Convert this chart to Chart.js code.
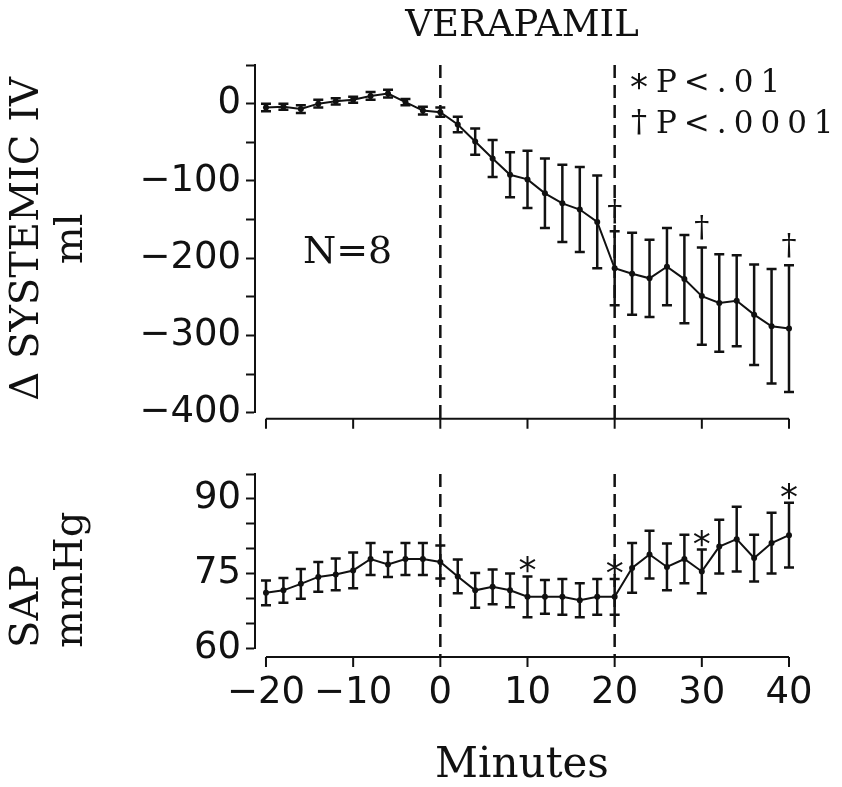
<!DOCTYPE html>
<html>
<head>
<meta charset="utf-8">
<script src="https://cdn.jsdelivr.net/npm/chart.js@4.4.0/dist/chart.umd.min.js"></script>
<style>
html, body { margin: 0; padding: 0; background: #fff; }
#wrap { position: relative; width: 842px; height: 787px; }
#topBox { position: absolute; left: 0; top: 0; width: 842px; height: 440px; }
#botBox { position: absolute; left: 0; top: 440px; width: 842px; height: 347px; }
</style>
</head>
<body>
<div id="wrap">
  <div id="topBox"><canvas id="chart-iv"></canvas></div>
  <div id="botBox"><canvas id="chart-sap"></canvas></div>
</div>
<script>
// time points (minutes), every 2 min
const minutes = [-20,-18,-16,-14,-12,-10,-8,-6,-4,-2,0,2,4,6,8,10,12,14,16,18,20,22,24,26,28,30,32,34,36,38,40];

// delta systemic IV (ml), mean and error
const ivMean = [-5,-4,-7,0,3,5,10,13,2,-9,-11,-27,-49,-71,-92,-98,-116,-129,-137,-153,-213,-220,-226,-211,-227,-249,-258,-255,-273,-288,-291];
const ivErr  = [5,4,5,5,4,4,5,5,4,5,6,10,17,24,29,37,45,50,55,60,48,53,50,50,57,63,63,59,65,74,82];

// SAP (mmHg), mean and error
const sapMean = [71.1,71.6,72.9,74.3,74.8,75.6,77.9,76.8,77.9,77.9,77.3,74.4,71.6,72.3,71.6,70.3,70.3,70.3,69.6,70.3,70.3,76.1,78.8,76.3,77.9,75.4,80.4,81.9,78.1,81.1,82.7];
const sapErr  = [2.5,2.5,3,3,3.2,3.6,3.2,2.5,3.2,3.2,3.3,3.4,3.5,3.5,3.4,4.1,3.4,3.6,3.4,3.6,3.6,5,4.8,4.7,4.9,4.4,5.4,6.5,4.7,6.1,6.5];

// significance marks
const daggerMinutes = [20, 30, 40];
const starMinutes = [10, 20, 30, 40];

// drug start / end
const markLines = [0, 20];

// ticks
const xTicks = [-20,-10,0,10,20,30,40];
const xMin = -21.26, xMax = 40;
const ivTicks = [-400,-350,-300,-250,-200,-150,-100,-50,0,50];
const ivLabels = [-400,-300,-200,-100,0];
const sapTicks = [60,65,70,75,80,85,90,95];
const sapLabels = [60,75,90];

const legendSymbols = ['*', '†'];
const legendTexts = ['P<.01', 'P<.0001'];
const sampleNote = 'N=8';

const INK = '#111';
Chart.defaults.font.family = 'DejaVu Sans';
Chart.defaults.color = INK;

const fmt = v => (v < 0 ? '\u2212' + Math.abs(v) : String(v));

// draw a glyph with its ink box centred horizontally on cx and bottom at by
function glyphAbove(ctx, txt, cx, by) {
  ctx.textAlign = 'left';
  ctx.textBaseline = 'alphabetic';
  const m = ctx.measureText(txt);
  const x0 = cx - (m.actualBoundingBoxRight - m.actualBoundingBoxLeft) / 2;
  ctx.fillText(txt, x0, by - m.actualBoundingBoxDescent);
}
function glyphCentered(ctx, txt, cx, cy) {
  ctx.textAlign = 'left';
  ctx.textBaseline = 'alphabetic';
  const m = ctx.measureText(txt);
  const x0 = cx - (m.actualBoundingBoxRight - m.actualBoundingBoxLeft) / 2;
  ctx.fillText(txt, x0, cy + (m.actualBoundingBoxAscent - m.actualBoundingBoxDescent) / 2);
}

const deco = {
  id: 'deco',
  afterDatasetsDraw(chart, args, opts) {
    const ctx = chart.ctx;
    const xs = chart.scales.x, ys = chart.scales.y;
    const area = chart.chartArea;
    const axisY = area.bottom + opts.axisGap;
    ctx.save();
    ctx.strokeStyle = INK;
    ctx.fillStyle = INK;

    // x axis line with ticks
    ctx.lineWidth = 2;
    ctx.beginPath();
    ctx.moveTo(xs.getPixelForValue(xTicks[0]), axisY);
    ctx.lineTo(xs.getPixelForValue(xTicks[xTicks.length - 1]), axisY);
    xTicks.forEach(v => {
      const px = xs.getPixelForValue(v);
      ctx.moveTo(px, axisY);
      ctx.lineTo(px, axisY + 10);
    });
    ctx.stroke();

    // dashed lines
    ctx.setLineDash([13, 7]);
    ctx.lineWidth = 2.5;
    markLines.forEach(v => {
      const px = xs.getPixelForValue(v);
      ctx.beginPath();
      ctx.moveTo(px, area.top);
      ctx.lineTo(px, axisY);
      ctx.stroke();
    });
    ctx.setLineDash([]);

    // error bars
    const ds = chart.data.datasets[0];
    ctx.lineWidth = 2.5;
    ds.data.forEach((p, j) => {
      const px = xs.getPixelForValue(p.x);
      const top = ys.getPixelForValue(p.y + ds.errors[j]);
      const bot = ys.getPixelForValue(p.y - ds.errors[j]);
      ctx.beginPath();
      ctx.moveTo(px, top); ctx.lineTo(px, bot);
      ctx.moveTo(px - 5, top); ctx.lineTo(px + 5, top);
      ctx.moveTo(px - 5, bot); ctx.lineTo(px + 5, bot);
      ctx.stroke();
    });

    // significance marks
    ctx.font = opts.markFont;
    opts.marks.forEach(m => {
      const j = ds.data.findIndex(p => p.x === m);
      const px = xs.getPixelForValue(m);
      const top = ys.getPixelForValue(ds.data[j].y + ds.errors[j]);
      glyphAbove(ctx, opts.markSymbol, px, top - opts.markGap);
    });
    ctx.restore();
  }
};

const notes = {
  id: 'notes',
  afterDraw(chart) {
    const ctx = chart.ctx;
    ctx.save();
    ctx.fillStyle = INK;
    ctx.font = '38px DejaVu Serif';
    ctx.textAlign = 'left';
    ctx.textBaseline = 'alphabetic';
    ctx.fillText(sampleNote, 303, 263);

    const rows = [81, 122];
    legendTexts.forEach((t, i) => {
      ctx.font = i === 0 ? '36px DejaVu Sans' : '32px DejaVu Serif';
      glyphCentered(ctx, legendSymbols[i], 639, rows[i]);
      ctx.font = '31px DejaVu Serif';
      ctx.letterSpacing = '7px';
      ctx.textBaseline = 'alphabetic';
      ctx.fillText(t, 656, rows[i] + 11);
      ctx.letterSpacing = '0px';
    });
    ctx.restore();
  }
};

function lineSet(xv, yv, err) {
  return {
    data: xv.map((m, i) => ({ x: m, y: yv[i] })),
    errors: err,
    borderColor: INK,
    borderWidth: 2,
    pointRadius: 3,
    pointBackgroundColor: INK,
    pointBorderWidth: 0,
    tension: 0,
    clip: false
  };
}

function yAxis(min, max, ticks, labels, title, align) {
  return {
    min: min, max: max,
    afterFit(s) { s.width = 255; },
    afterBuildTicks(s) { s.ticks = ticks.map(v => ({ value: v })); },
    border: { display: true, color: INK, width: 2 },
    grid: { drawOnChartArea: false, drawTicks: true, tickLength: 9, tickWidth: 2, tickColor: INK },
    ticks: {
      autoSkip: false, color: INK, padding: 5, font: { size: 37 },
      callback: v => (labels.includes(v) ? fmt(v) : '')
    },
    title: {
      display: true, text: title, color: INK, align: align,
      font: { family: 'DejaVu Serif', size: 40, lineHeight: 1.1 },
      padding: { top: 6, bottom: 0 }
    }
  };
}

new Chart(document.getElementById('chart-iv'), {
  type: 'line',
  data: { datasets: [lineSet(minutes, ivMean, ivErr)] },
  options: {
    animation: false,
    responsive: true,
    maintainAspectRatio: false,
    layout: { padding: { left: 0, right: 53, top: 0, bottom: 25 } },
    plugins: {
      legend: { display: false },
      tooltip: { enabled: false },
      title: {
        display: true, text: 'VERAPAMIL', fullSize: false, color: INK,
        font: { family: 'DejaVu Serif', size: 37, weight: 'normal', lineHeight: 1 },
        padding: { top: 8, bottom: 20 }
      },
      deco: { axisGap: 6, marks: daggerMinutes, markSymbol: '†', markFont: '30px DejaVu Serif', markGap: 7 }
    },
    scales: {
      x: { type: 'linear', display: false, min: xMin, max: xMax },
      y: yAxis(-400, 50, ivTicks, ivLabels, ['\u0394 SYSTEMIC IV', 'ml'], 'center')
    }
  },
  plugins: [deco, notes]
});

new Chart(document.getElementById('chart-sap'), {
  type: 'line',
  data: { datasets: [lineSet(minutes, sapMean, sapErr)] },
  options: {
    animation: false,
    responsive: true,
    maintainAspectRatio: false,
    layout: { padding: { left: 0, right: 53, top: 34, bottom: 0 } },
    plugins: {
      legend: { display: false },
      tooltip: { enabled: false },
      deco: { axisGap: 9, marks: starMinutes, markSymbol: '*', markFont: '36px DejaVu Sans', markGap: 3 }
    },
    scales: {
      x: {
        type: 'linear', min: xMin, max: xMax,
        afterFit(s) { s.height = 139; },
        afterBuildTicks(s) { s.ticks = xTicks.map(v => ({ value: v })); },
        grid: { display: false, drawTicks: false },
        border: { display: false },
        ticks: { autoSkip: false, maxRotation: 0, padding: 23, color: INK, font: { size: 37 }, callback: v => fmt(v) },
        title: {
          display: true, text: 'Minutes', color: INK,
          font: { family: 'DejaVu Serif', size: 42, lineHeight: 1 },
          padding: { top: 0, bottom: 0 }
        }
      },
      y: yAxis(60, 95, sapTicks, sapLabels, ['SAP', 'mmHg'], 'start')
    }
  },
  plugins: [deco]
});
</script>
</body>
</html>
